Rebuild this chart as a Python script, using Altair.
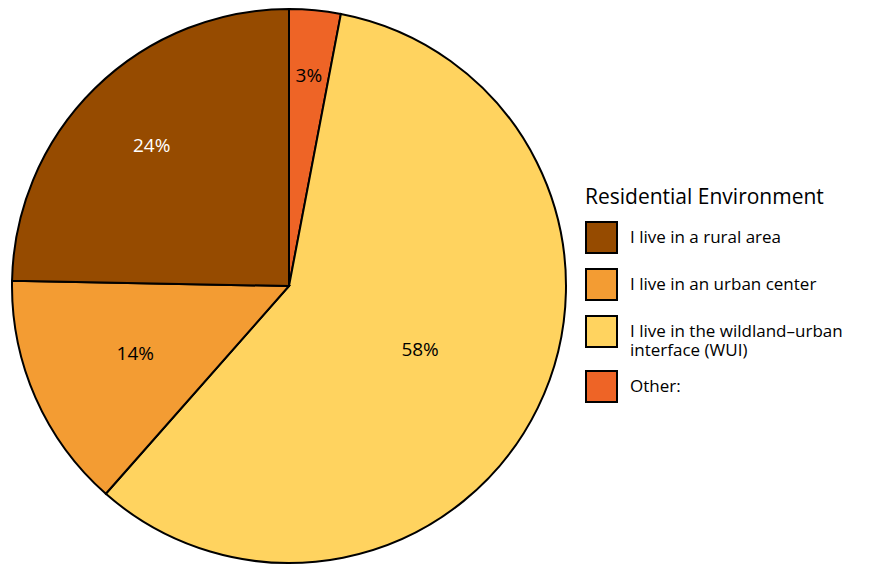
import altair as alt
import pandas as pd

categories = ["Other:", "I live in the wildland\u2013urban interface (WUI)",
              "I live in an urban center", "I live in a rural area"]
values = [3.0, 58.5, 13.8, 24.7]
labels = ["3%", "58%", "14%", "24%"]
legend_order = ["I live in a rural area", "I live in an urban center",
                "I live in the wildland\u2013urban interface (WUI)", "Other:"]
colors = ["#964B00", "#F39C33", "#FFD35F", "#EE6426"]
label_radius = [211, 146, 168, 196]

df = pd.DataFrame({
    "cat": categories, "value": values, "label": labels,
    "order": list(range(len(categories))),
    "lrad": label_radius,
})

FONT = "Open Sans"

pie = alt.Chart(df).mark_arc(stroke="black", strokeWidth=2, outerRadius=277).encode(
    theta=alt.Theta("value:Q", stack=True),
    order=alt.Order("order:Q"),
    color=alt.Color(
        "cat:N",
        scale=alt.Scale(domain=legend_order, range=colors),
        legend=alt.Legend(
            title="Residential Environment",
            orient="none", legendX=585, legendY=182,
            symbolType="square", symbolSize=961,
            symbolStrokeColor="black", symbolStrokeWidth=2,
            symbolOpacity=1,
            titleFont=FONT, titleFontSize=21, titleFontWeight="normal",
            titleColor="black", titlePadding=13, titleLimit=400,
            labelFont=FONT, labelFontSize=17, labelColor="black",
            labelLimit=400, rowPadding=8, labelOffset=12,
            labelExpr="datum.label == 'I live in the wildland\u2013urban interface (WUI)' ? ['I live in the wildland\u2013urban', 'interface (WUI)'] : datum.label",
        ),
    )
)

text = alt.Chart(df).transform_window(
    cum="sum(value)", sort=[alt.SortField("order")]
).transform_joinaggregate(
    total="sum(value)"
).transform_calculate(
    mid="(datum.cum - datum.value / 2) / datum.total * 2 * PI"
).mark_text(font=FONT, fontSize=19).encode(
    theta=alt.Theta("mid:Q", scale=None),
    radius=alt.Radius("lrad:Q", scale=None),
    text="label:N",
    color=alt.condition(alt.datum.cat == "I live in a rural area",
                        alt.value("white"), alt.value("black")),
)

chart = (pie + text).properties(
    width=578, height=562,
    padding={"left": 0, "top": 5, "right": 295, "bottom": 0},
    autosize=alt.AutoSizeParams(type="none"),
).configure_view(stroke=None)

chart.save("out.html", embed_options={"renderer": "svg", "actions": False})
